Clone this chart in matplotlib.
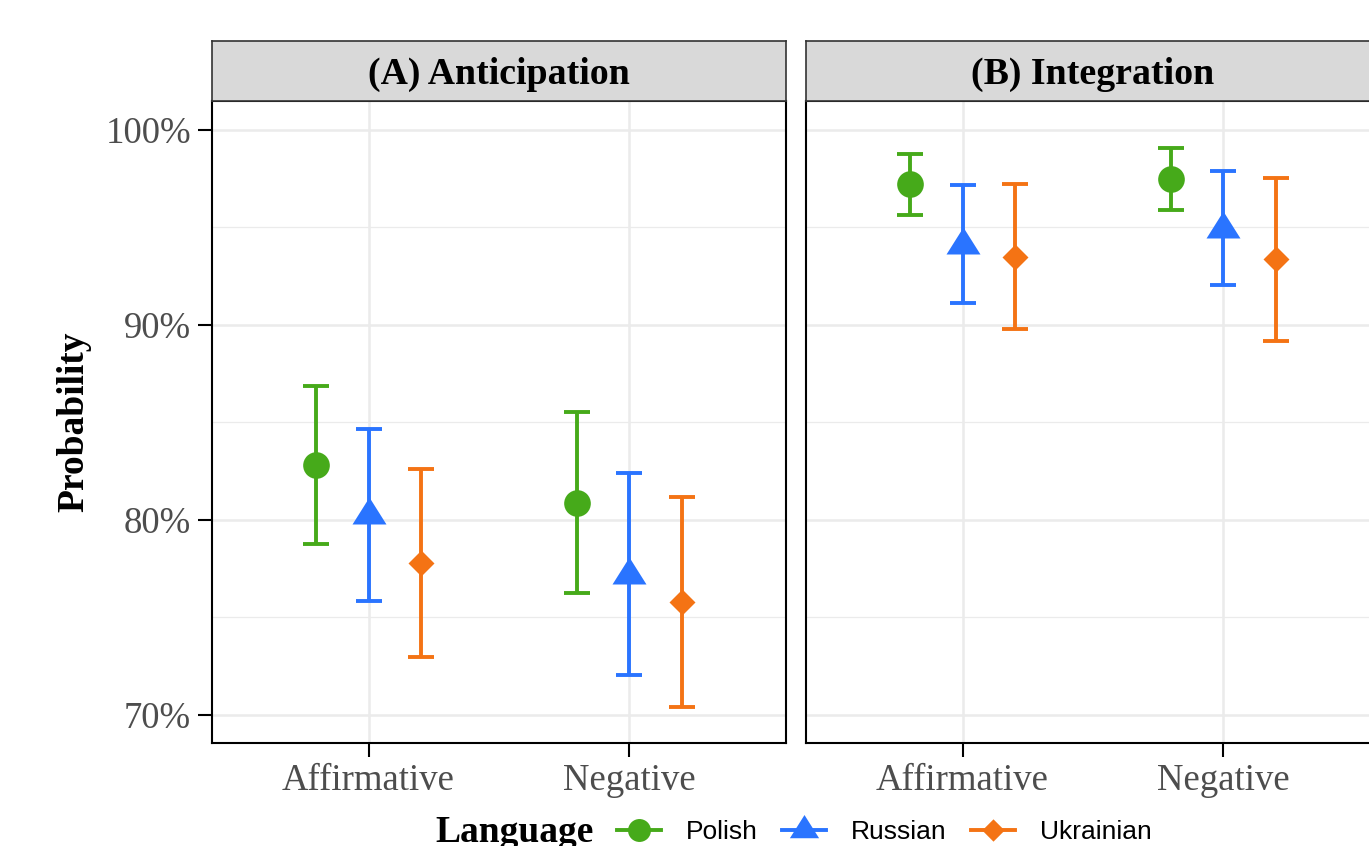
import matplotlib
matplotlib.use('Agg')
import matplotlib.pyplot as plt
from matplotlib.lines import Line2D
from matplotlib.path import Path
import numpy as np

# ---------------- data (probabilities in %) ----------------
panels = ['(A) Anticipation', '(B) Integration']
conditions = ['Affirmative', 'Negative']
languages = ['Polish', 'Russian', 'Ukrainian']

# Panel A: Anticipation
A_polish_mean = [82.82, 80.86]
A_polish_lo = [78.77, 76.24]
A_polish_hi = [86.89, 85.52]
A_russian_mean = [80.24, 77.20]
A_russian_lo = [75.86, 72.07]
A_russian_hi = [84.67, 82.39]
A_ukrainian_mean = [77.78, 75.81]
A_ukrainian_lo = [72.96, 70.42]
A_ukrainian_hi = [82.60, 81.20]

# Panel B: Integration
B_polish_mean = [97.22, 97.47]
B_polish_lo = [95.63, 95.90]
B_polish_hi = [98.75, 99.06]
B_russian_mean = [94.12, 94.92]
B_russian_lo = [91.14, 92.04]
B_russian_hi = [97.20, 97.91]
B_ukrainian_mean = [93.50, 93.37]
B_ukrainian_lo = [89.78, 89.18]
B_ukrainian_hi = [97.25, 97.55]

y_ticks = [70, 80, 90, 100]
y_minor = [75, 85, 95]

data = {
    panels[0]: {
        'Polish': (A_polish_mean, A_polish_lo, A_polish_hi),
        'Russian': (A_russian_mean, A_russian_lo, A_russian_hi),
        'Ukrainian': (A_ukrainian_mean, A_ukrainian_lo, A_ukrainian_hi),
    },
    panels[1]: {
        'Polish': (B_polish_mean, B_polish_lo, B_polish_hi),
        'Russian': (B_russian_mean, B_russian_lo, B_russian_hi),
        'Ukrainian': (B_ukrainian_mean, B_ukrainian_lo, B_ukrainian_hi),
    },
}

# ---------------- style ----------------
colors = {'Polish': '#46AA1A', 'Russian': '#2A74FF', 'Ukrainian': '#F47314'}
tri = Path([(0, 18), (-17, -9), (17, -9), (0, 18)],
           [Path.MOVETO, Path.LINETO, Path.LINETO, Path.CLOSEPOLY])
dia = Path([(0, 1), (1, 0), (0, -1), (-1, 0), (0, 1)],
           [Path.MOVETO, Path.LINETO, Path.LINETO, Path.LINETO, Path.CLOSEPOLY])
markers = {'Polish': 'o', 'Russian': tri, 'Ukrainian': dia}
msizes = {'Polish': 19.2, 'Russian': 25.9, 'Ukrainian': 18.7}
offsets = {'Polish': -0.2, 'Russian': 0.0, 'Ukrainian': 0.2}

serif = 'Liberation Serif'
sans = 'Liberation Sans'
plt.rcParams['font.family'] = [serif, 'DejaVu Serif']

W, H = 1369, 846
fig = plt.figure(figsize=(W / 100, H / 100), dpi=100)


def fx(px):
    return px / W


def fy(py):
    return 1 - py / H


panel_left = [212, 806]
panel_w = 574
panel_top, panel_bot = 101, 743
strip_top = 41

for i, pname in enumerate(panels):
    ax = fig.add_axes([fx(panel_left[i]), fy(panel_bot), panel_w / W,
                       (panel_bot - panel_top) / H])
    ax.set_xlim(0.4, 2.6)
    ax.set_ylim(68.564, 101.487)
    ax.set_axisbelow(True)
    ax.set_xticks([1, 2])
    ax.set_xticklabels(conditions)
    ax.set_yticks(y_ticks)
    ax.set_yticks(y_minor, minor=True)
    ax.set_yticklabels([f'{v}%' for v in y_ticks])
    ax.grid(which='major', color='#EBEBEB', lw=1.8)
    ax.grid(which='minor', axis='y', color='#EBEBEB', lw=0.9)
    for sp in ax.spines.values():
        sp.set_linewidth(1.5)
        sp.set_color('black')
    ax.tick_params(axis='both', which='major', length=10, width=1.5,
                   color='black', labelcolor='#4D4D4D', labelsize=26.5, pad=5)
    ax.tick_params(axis='y', which='minor', length=0)
    if i == 1:
        ax.tick_params(axis='y', which='both', left=False, labelleft=False)

    x = np.arange(1, len(conditions) + 1)
    for lang in languages:
        mean, lo, hi = (np.array(v) for v in data[pname][lang])
        xx = x + offsets[lang]
        ax.errorbar(xx, mean, yerr=[mean - lo, hi - mean], fmt='none',
                    ecolor=colors[lang], elinewidth=2.8, capsize=9.7,
                    capthick=2.8, zorder=3)
        ax.plot(xx, mean, ls='none', marker=markers[lang], ms=msizes[lang],
                color=colors[lang], mew=0, zorder=4)

    # strip
    sax = fig.add_axes([fx(panel_left[i]), fy(panel_top), panel_w / W,
                        (panel_top - strip_top) / H])
    sax.set_facecolor('#D9D9D9')
    sax.set_xticks([])
    sax.set_yticks([])
    for sp in sax.spines.values():
        sp.set_linewidth(1.2)
        sp.set_color('#333333')
    sax.text(0.5, 0.45, pname, transform=sax.transAxes, ha='center',
             va='center', fontsize=27.3, fontweight='bold', color='black')

fig.text(fx(74), fy(422), 'Probability', rotation=90, ha='center',
         va='center', fontsize=27, fontweight='bold')

# legend (the reference image is cropped at the bottom edge)
fig.text(fx(435), fy(842), 'Language', ha='left', va='baseline',
         fontsize=27, fontweight='bold')
handles = [Line2D([], [], color=colors[l], lw=2.8, marker=markers[l],
                  ms=msizes[l] * 0.86, mew=0) for l in languages]
fig.legend(handles, languages, loc='center left',
           bbox_to_anchor=(fx(617), fy(832)), ncol=3, frameon=False,
           prop={'family': sans, 'size': 19}, handlelength=1.67,
           handletextpad=0.95, columnspacing=0.91, borderpad=0,
           borderaxespad=0)

fig.savefig('out.png', dpi=100)
